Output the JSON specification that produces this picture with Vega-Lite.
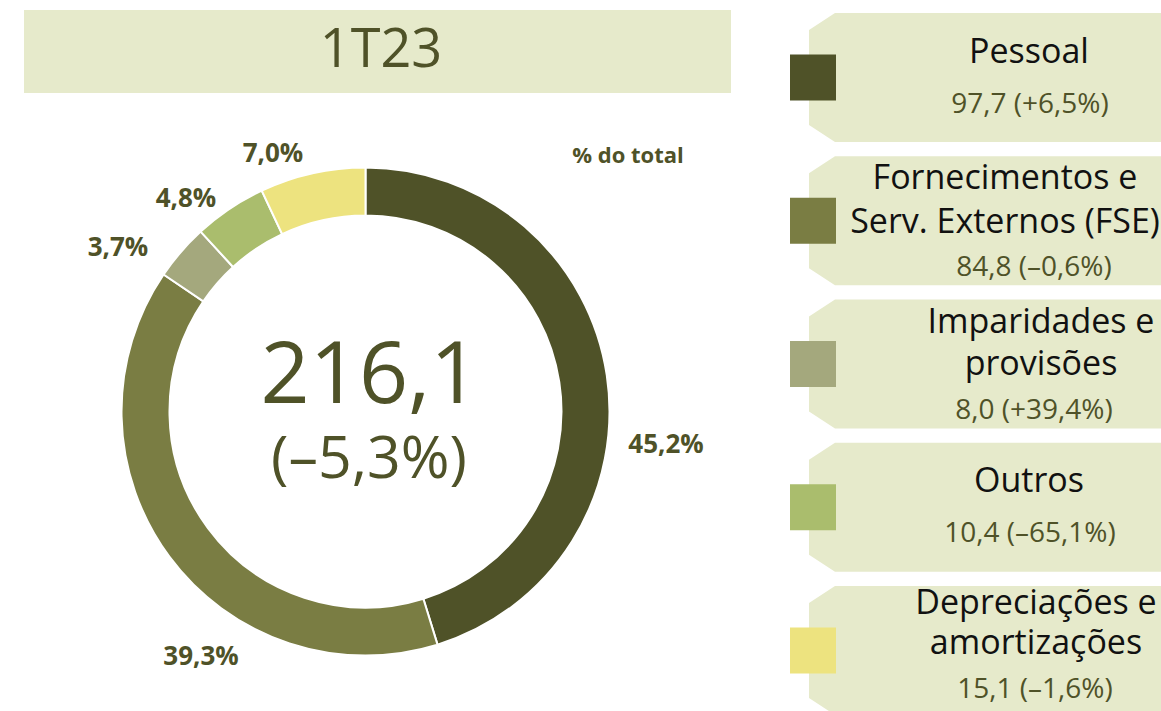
{
  "$schema": "https://vega.github.io/schema/vega-lite/v6.json",
  "width": 1161,
  "height": 711,
  "padding": 0,
  "autosize": {"type": "fit", "contains": "padding"},
  "background": "white",
  "config": {"view": {"stroke": null}, "font": "Open Sans"},
  "data": {
    "values": [
      {"cat": "Pessoal", "title": "Pessoal", "lines": 1, "value": 97.7, "valueLabel": "97,7 (+6,5%)", "pctLabel": "45,2%", "order": 0},
      {"cat": "Fornecimentos e Serv. Externos (FSE)", "title": "Fornecimentos e\nServ. Externos (FSE)", "lines": 2, "value": 84.8, "valueLabel": "84,8 (–0,6%)", "pctLabel": "39,3%", "order": 1},
      {"cat": "Imparidades e provisões", "title": "Imparidades e\nprovisões", "lines": 2, "value": 8.0, "valueLabel": "8,0 (+39,4%)", "pctLabel": "3,7%", "order": 2},
      {"cat": "Outros", "title": "Outros", "lines": 1, "value": 10.4, "valueLabel": "10,4 (–65,1%)", "pctLabel": "4,8%", "order": 3},
      {"cat": "Depreciações e amortizações", "title": "Depreciações e\namortizações", "lines": 2, "value": 15.1, "valueLabel": "15,1 (–1,6%)", "pctLabel": "7,0%", "order": 4}
    ]
  },
  "layer": [
    {
      "transform": [{"filter": "datum.order == 0"}],
      "mark": {"type": "rect", "fill": "#E6EACB"},
      "encoding": {
        "x": {"datum": 24, "type": "quantitative", "scale": {"domain": [0, 1161], "range": [0, 1161]}, "axis": null},
        "x2": {"datum": 731},
        "y": {"datum": 10, "type": "quantitative", "scale": {"domain": [0, 711], "range": [0, 711]}, "axis": null},
        "y2": {"datum": 93}
      }
    },
    {
      "transform": [{"filter": "datum.order == 0"}],
      "mark": {"type": "text", "text": "1T23", "fontSize": 54, "color": "#4F5228", "align": "center", "baseline": "alphabetic"},
      "encoding": {
        "x": {"datum": 381, "type": "quantitative", "scale": {"domain": [0, 1161], "range": [0, 1161]}, "axis": null},
        "y": {"datum": 67, "type": "quantitative", "scale": {"domain": [0, 711], "range": [0, 711]}, "axis": null}
      }
    },
    {
      "mark": {"type": "arc", "radius": 244, "radius2": 196, "stroke": "white", "strokeWidth": 2},
      "encoding": {
        "theta": {"field": "value", "type": "quantitative", "stack": true},
        "order": {"field": "order", "type": "quantitative"},
        "color": {
          "field": "cat", "type": "nominal", "legend": null,
          "scale": {
            "domain": ["Pessoal", "Fornecimentos e Serv. Externos (FSE)", "Imparidades e provisões", "Outros", "Depreciações e amortizações"],
            "range": ["#4F5228", "#7A7D43", "#A4A87D", "#AABD6D", "#EDE37F"]
          }
        },
        "x": {"datum": 365.5, "type": "quantitative", "scale": {"domain": [0, 1161], "range": [0, 1161]}, "axis": null},
        "y": {"datum": 411.5, "type": "quantitative", "scale": {"domain": [0, 711], "range": [0, 711]}, "axis": null}
      }
    },
    {
      "transform": [{"filter": "datum.order == 0"}],
      "mark": {"type": "text", "text": "216,1", "fontSize": 86, "color": "#4F5228", "align": "center", "baseline": "alphabetic"},
      "encoding": {
        "x": {"datum": 370, "type": "quantitative", "scale": {"domain": [0, 1161], "range": [0, 1161]}, "axis": null},
        "y": {"datum": 403, "type": "quantitative", "scale": {"domain": [0, 711], "range": [0, 711]}, "axis": null}
      }
    },
    {
      "transform": [{"filter": "datum.order == 0"}],
      "mark": {"type": "text", "text": "(–5,3%)", "fontSize": 59, "color": "#4F5228", "align": "center", "baseline": "alphabetic"},
      "encoding": {
        "x": {"datum": 369, "type": "quantitative", "scale": {"domain": [0, 1161], "range": [0, 1161]}, "axis": null},
        "y": {"datum": 478, "type": "quantitative", "scale": {"domain": [0, 711], "range": [0, 711]}, "axis": null}
      }
    },
    {
      "transform": [{"filter": "datum.order == 0"}],
      "mark": {"type": "text", "text": "% do total", "fontSize": 22, "fontWeight": "bold", "color": "#4F5228", "align": "center", "baseline": "alphabetic"},
      "encoding": {
        "x": {"datum": 628, "type": "quantitative", "scale": {"domain": [0, 1161], "range": [0, 1161]}, "axis": null},
        "y": {"datum": 163, "type": "quantitative", "scale": {"domain": [0, 711], "range": [0, 711]}, "axis": null}
      }
    },
    {
      "transform": [{"filter": "datum.order == 0"}],
      "mark": {"type": "text", "fontSize": 26, "fontWeight": "bold", "color": "#4F5228", "align": "center", "baseline": "alphabetic"},
      "encoding": {
        "text": {"field": "pctLabel"},
        "x": {"datum": 666, "type": "quantitative", "scale": {"domain": [0, 1161], "range": [0, 1161]}, "axis": null},
        "y": {"datum": 453, "type": "quantitative", "scale": {"domain": [0, 711], "range": [0, 711]}, "axis": null}
      }
    },
    {
      "transform": [{"filter": "datum.order == 1"}],
      "mark": {"type": "text", "fontSize": 26, "fontWeight": "bold", "color": "#4F5228", "align": "center", "baseline": "alphabetic"},
      "encoding": {
        "text": {"field": "pctLabel"},
        "x": {"datum": 201, "type": "quantitative", "scale": {"domain": [0, 1161], "range": [0, 1161]}, "axis": null},
        "y": {"datum": 665, "type": "quantitative", "scale": {"domain": [0, 711], "range": [0, 711]}, "axis": null}
      }
    },
    {
      "transform": [{"filter": "datum.order == 2"}],
      "mark": {"type": "text", "fontSize": 26, "fontWeight": "bold", "color": "#4F5228", "align": "center", "baseline": "alphabetic"},
      "encoding": {
        "text": {"field": "pctLabel"},
        "x": {"datum": 118, "type": "quantitative", "scale": {"domain": [0, 1161], "range": [0, 1161]}, "axis": null},
        "y": {"datum": 256, "type": "quantitative", "scale": {"domain": [0, 711], "range": [0, 711]}, "axis": null}
      }
    },
    {
      "transform": [{"filter": "datum.order == 3"}],
      "mark": {"type": "text", "fontSize": 26, "fontWeight": "bold", "color": "#4F5228", "align": "center", "baseline": "alphabetic"},
      "encoding": {
        "text": {"field": "pctLabel"},
        "x": {"datum": 186, "type": "quantitative", "scale": {"domain": [0, 1161], "range": [0, 1161]}, "axis": null},
        "y": {"datum": 207, "type": "quantitative", "scale": {"domain": [0, 711], "range": [0, 711]}, "axis": null}
      }
    },
    {
      "transform": [{"filter": "datum.order == 4"}],
      "mark": {"type": "text", "fontSize": 26, "fontWeight": "bold", "color": "#4F5228", "align": "center", "baseline": "alphabetic"},
      "encoding": {
        "text": {"field": "pctLabel"},
        "x": {"datum": 273, "type": "quantitative", "scale": {"domain": [0, 1161], "range": [0, 1161]}, "axis": null},
        "y": {"datum": 162, "type": "quantitative", "scale": {"domain": [0, 711], "range": [0, 711]}, "axis": null}
      }
    },
    {
      "mark": {"type": "point", "shape": "M-0.8523,-0.3665L1,-0.3665L1,0.3665L-0.8523,0.3665L-1,0.2699L-1,-0.2699Z", "size": 123904, "filled": true, "fill": "#E6EACB", "opacity": 1, "strokeWidth": 0},
      "encoding": {
        "x": {"datum": 985, "type": "quantitative", "scale": {"domain": [0, 1161], "range": [0, 1161]}, "axis": null},
        "y": {"field": "order", "type": "quantitative", "scale": {"domain": [0, 4], "range": [77.5, 650.5]}, "axis": null}
      }
    },
    {
      "mark": {"type": "point", "shape": "square", "size": 2116, "filled": true, "opacity": 1, "strokeWidth": 0},
      "encoding": {
        "x": {"datum": 813, "type": "quantitative", "scale": {"domain": [0, 1161], "range": [0, 1161]}, "axis": null},
        "y": {"field": "order", "type": "quantitative", "scale": {"domain": [0, 4], "range": [77.5, 650.5]}, "axis": null},
        "color": {
          "field": "cat", "type": "nominal", "legend": null,
          "scale": {
            "domain": ["Pessoal", "Fornecimentos e Serv. Externos (FSE)", "Imparidades e provisões", "Outros", "Depreciações e amortizações"],
            "range": ["#4F5228", "#7A7D43", "#A4A87D", "#AABD6D", "#EDE37F"]
          }
        }
      }
    },
    {
      "transform": [{"filter": "datum.lines == 1"}],
      "mark": {"type": "text", "fontSize": 34, "color": "#111111", "align": "center", "baseline": "middle", "dy": -25},
      "encoding": {
        "text": {"field": "title"},
        "x": {"datum": 1029, "type": "quantitative", "scale": {"domain": [0, 1161], "range": [0, 1161]}, "axis": null},
        "y": {"field": "order", "type": "quantitative", "scale": {"domain": [0, 4], "range": [77.5, 650.5]}, "axis": null}
      }
    },
    {
      "transform": [{"filter": "datum.order == 1"}],
      "mark": {"type": "text", "fontSize": 34, "color": "#111111", "align": "center", "baseline": "middle", "lineBreak": "\n", "lineHeight": 44, "dy": -42},
      "encoding": {
        "text": {"field": "title"},
        "x": {"datum": 1005, "type": "quantitative", "scale": {"domain": [0, 1161], "range": [0, 1161]}, "axis": null},
        "y": {"field": "order", "type": "quantitative", "scale": {"domain": [0, 4], "range": [77.5, 650.5]}, "axis": null}
      }
    },
    {
      "transform": [{"filter": "datum.order == 2"}],
      "mark": {"type": "text", "fontSize": 34, "color": "#111111", "align": "center", "baseline": "middle", "lineBreak": "\n", "lineHeight": 42, "dy": -41},
      "encoding": {
        "text": {"field": "title"},
        "x": {"datum": 1041, "type": "quantitative", "scale": {"domain": [0, 1161], "range": [0, 1161]}, "axis": null},
        "y": {"field": "order", "type": "quantitative", "scale": {"domain": [0, 4], "range": [77.5, 650.5]}, "axis": null}
      }
    },
    {
      "transform": [{"filter": "datum.order == 4"}],
      "mark": {"type": "text", "fontSize": 34, "color": "#111111", "align": "center", "baseline": "middle", "lineBreak": "\n", "lineHeight": 40, "dy": -47},
      "encoding": {
        "text": {"field": "title"},
        "x": {"datum": 1036, "type": "quantitative", "scale": {"domain": [0, 1161], "range": [0, 1161]}, "axis": null},
        "y": {"field": "order", "type": "quantitative", "scale": {"domain": [0, 4], "range": [77.5, 650.5]}, "axis": null}
      }
    },
    {
      "transform": [{"filter": "datum.lines == 1"}],
      "mark": {"type": "text", "fontSize": 28, "color": "#4F5228", "align": "center", "baseline": "middle", "dy": 27},
      "encoding": {
        "text": {"field": "valueLabel"},
        "x": {"datum": 1030, "type": "quantitative", "scale": {"domain": [0, 1161], "range": [0, 1161]}, "axis": null},
        "y": {"field": "order", "type": "quantitative", "scale": {"domain": [0, 4], "range": [77.5, 650.5]}, "axis": null}
      }
    },
    {
      "transform": [{"filter": "datum.order == 1 || datum.order == 2"}],
      "mark": {"type": "text", "fontSize": 28, "color": "#4F5228", "align": "center", "baseline": "middle", "dy": 47},
      "encoding": {
        "text": {"field": "valueLabel"},
        "x": {"datum": 1034, "type": "quantitative", "scale": {"domain": [0, 1161], "range": [0, 1161]}, "axis": null},
        "y": {"field": "order", "type": "quantitative", "scale": {"domain": [0, 4], "range": [77.5, 650.5]}, "axis": null}
      }
    },
    {
      "transform": [{"filter": "datum.order == 4"}],
      "mark": {"type": "text", "fontSize": 28, "color": "#4F5228", "align": "center", "baseline": "middle", "dy": 39},
      "encoding": {
        "text": {"field": "valueLabel"},
        "x": {"datum": 1035, "type": "quantitative", "scale": {"domain": [0, 1161], "range": [0, 1161]}, "axis": null},
        "y": {"field": "order", "type": "quantitative", "scale": {"domain": [0, 4], "range": [77.5, 650.5]}, "axis": null}
      }
    }
  ],
  "resolve": {"scale": {"x": "independent", "y": "independent", "color": "shared"}}
}
